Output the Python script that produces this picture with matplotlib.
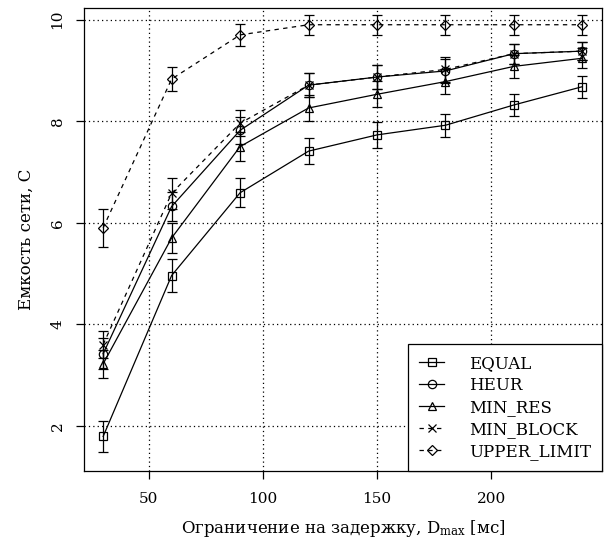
import matplotlib
matplotlib.use('Agg')
import matplotlib.pyplot as plt

plt.rcParams['font.family'] = 'DejaVu Serif'
plt.rcParams['mathtext.fontset'] = 'dejavuserif'

# Ограничение на задержку, мс
delay = [30, 60, 90, 120, 150, 180, 210, 240]

# Емкость сети и доверительные интервалы по алгоритмам
equal = [1.79, 4.96, 6.59, 7.41, 7.73, 7.92, 8.32, 8.68]
equal_err = [0.30, 0.33, 0.29, 0.25, 0.26, 0.23, 0.22, 0.22]

heur = [3.42, 6.32, 7.82, 8.71, 8.87, 8.99, 9.33, 9.38]
heur_err = [0.30, 0.28, 0.26, 0.24, 0.24, 0.23, 0.20, 0.18]

min_res = [3.22, 5.70, 7.50, 8.26, 8.53, 8.78, 9.08, 9.24]
min_res_err = [0.28, 0.30, 0.28, 0.26, 0.26, 0.24, 0.22, 0.20]

min_block = [3.60, 6.58, 7.96, 8.71, 8.87, 9.02, 9.33, 9.38]
min_block_err = [0.27, 0.30, 0.26, 0.24, 0.24, 0.24, 0.20, 0.18]

upper_limit = [5.90, 8.83, 9.70, 9.90, 9.90, 9.90, 9.90, 9.90]
upper_limit_err = [0.38, 0.24, 0.21, 0.20, 0.20, 0.20, 0.20, 0.20]

series = [
    ('EQUAL', equal, equal_err, 's', '-'),
    ('HEUR', heur, heur_err, 'o', '-'),
    ('MIN_RES', min_res, min_res_err, '^', '-'),
    ('MIN_BLOCK', min_block, min_block_err, 'x', '--'),
    ('UPPER_LIMIT', upper_limit, upper_limit_err, 'D', '--'),
]

fig = plt.figure(figsize=(6.06, 5.47), dpi=100)
ax = fig.add_axes([0.1386, 0.139, 0.8548, 0.8464])

for name, vals, err, mk, ls in series:
    msize = 6.0 if mk != 'D' else 5.5
    ax.errorbar(delay, vals, yerr=err, fmt='none', ecolor='black',
                elinewidth=0.9, capsize=3.5, capthick=0.9, zorder=3)
    line, = ax.plot(delay, vals, color='black', linestyle=ls, linewidth=0.9,
                    marker=mk, markersize=msize, markerfacecolor='none',
                    markeredgecolor='black', markeredgewidth=0.9,
                    label=name, zorder=4)
    if ls == '--':
        line.set_dashes((3.5, 3.5))

ax.set_xlim(21.6, 248.6)
ax.set_ylim(1.11, 10.23)
ax.set_xticks([50, 100, 150, 200])
ax.set_yticks([2, 4, 6, 8, 10])
ax.tick_params(direction='out', length=6, width=0.9, labelsize=11)
ax.tick_params(axis='x', pad=9)
ax.tick_params(axis='y', pad=8)
for lbl in ax.get_yticklabels():
    lbl.set_rotation(90)
    lbl.set_va('center')

ax.grid(True, color='black', linestyle=(0, (1, 2.5)), linewidth=0.9)
ax.set_axisbelow(True)
for sp in ax.spines.values():
    sp.set_linewidth(0.9)

ax.set_xlabel(r'Ограничение на задержку, D$_{\mathrm{max}}$ [мс]', fontsize=12, labelpad=9)
ax.set_ylabel('Емкость сети, C', fontsize=12, labelpad=11)

# легенда в правом нижнем углу, вплотную к осям
leg = ax.legend(loc='lower right', fontsize=12, frameon=True, fancybox=False,
                borderaxespad=0, handlelength=1.5, handletextpad=1.5,
                labelspacing=0.3, borderpad=0.65, edgecolor='black', framealpha=1)
leg.get_frame().set_linewidth(0.9)

fig.savefig('out.png', dpi=100)
